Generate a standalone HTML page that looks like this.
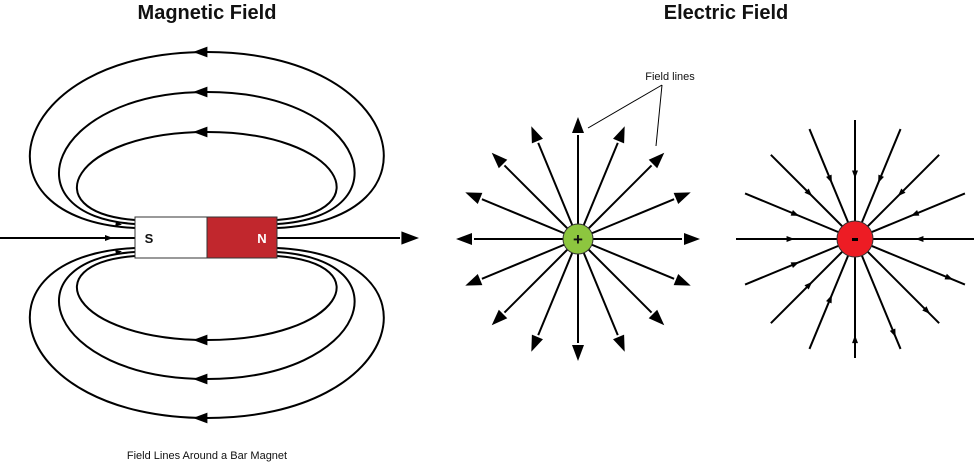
<!DOCTYPE html>
<html><head><meta charset="utf-8">
<style>
html,body{margin:0;padding:0;background:#fff;width:975px;height:463px;overflow:hidden}
svg{display:block}
text{font-family:"Liberation Sans",sans-serif;fill:#111}
</style></head>
<body>
<svg id="fig" width="975" height="463" viewBox="0 0 975 463">
  <text x="207" y="19" text-anchor="middle" font-size="20" font-weight="bold">Magnetic Field</text>
  <text x="726" y="19" text-anchor="middle" font-size="20" font-weight="bold">Electric Field</text>
  <text x="207" y="459" text-anchor="middle" font-size="11">Field Lines Around a Bar Magnet</text>
  <text x="670" y="80" text-anchor="middle" font-size="11">Field lines</text>
  <path d="M662,85 L588,128 M662,85 L656,146" stroke="#000" stroke-width="1" fill="none"/>
  <g id="mag"></g>
  <g id="plus"></g>
  <g id="minus"></g>
</svg>
<script>
// loop extents (top y of each loop, bottom y of each mirrored loop)
const topLoopY = [52, 92, 132];
const bottomLoopY = [418, 379, 340];
const loopHalfWidth = [200, 160, 135];
// ray directions (degrees) for point charges
const plusAngles = [0,22.5,45,67.5,90,112.5,135,157.5,180,202.5,225,247.5,270,292.5,315,337.5];
const minusAngles = [0,22.5,45,67.5,90,112.5,135,157.5,180,202.5,225,247.5,270,292.5,315,337.5];

const NS = 'http://www.w3.org/2000/svg';
function mk(tag, attrs, parent){
  const e = document.createElementNS(NS, tag);
  for (const k in attrs) e.setAttribute(k, attrs[k]);
  parent.appendChild(e);
  return e;
}
function tri(parent, x, y, ang, s){
  const a = ang*Math.PI/180, c=Math.cos(a), sn=Math.sin(a);
  const p = [[s,0],[-s*0.6,-s*0.6],[-s*0.6,s*0.6]].map(([u,v])=>[x+u*c-v*sn, y+u*sn+v*c]);
  return mk('path',{d:'M'+p.map(q=>q.join(',')).join(' L')+' Z',fill:'#000'},parent);
}
const mag = document.getElementById('mag');
const cx = 207, cy = 238, L = 135, R = 277;
topLoopY.forEach((ty,i)=>{
  const w = loopHalfWidth[i], sy = 228 - i*4;
  const p = mk('path',{d:`M${L},${sy} C${cx-w-40},${sy-8} ${cx-w},${ty} ${cx},${ty} C${cx+w},${ty} ${cx+w+40},${sy-8} ${R},${sy}`,fill:'none',stroke:'#000','stroke-width':2},mag);
  
  
  tri(mag, cx-5, ty, 180, 9);
});
bottomLoopY.forEach((by,i)=>{
  const w = loopHalfWidth[i], sy = 248 + i*4;
  const p = mk('path',{d:`M${L},${sy} C${cx-w-40},${sy+8} ${cx-w},${by} ${cx},${by} C${cx+w},${by} ${cx+w+40},${sy+8} ${R},${sy}`,fill:'none',stroke:'#000','stroke-width':2},mag);
  
  
  tri(mag, cx-5, by, 180, 9);
});
const axis = mk('path',{d:`M0,${cy} L${L},${cy} M${R},${cy} L400,${cy}`,stroke:'#000','stroke-width':2},mag);


tri(mag, 408, cy, 0, 11);
tri(mag, 108, cy, 0, 5);
tri(mag, 118, 224, 10, 4);
tri(mag, 118, 252, -10, 4);
const sBox = mk('rect',{x:L,y:217,width:72,height:41,fill:'#fff',stroke:'#333','stroke-width':1},mag);


const nBox = mk('rect',{x:207,y:217,width:70,height:41,fill:'#c1272d',stroke:'#333','stroke-width':1},mag);


const sT = mk('text',{x:149,y:243,'font-size':13,'font-weight':'bold','text-anchor':'middle'},mag); sT.textContent='S';


const nT = mk('text',{x:262,y:243,'font-size':13,'font-weight':'bold','text-anchor':'middle',style:'fill:#fff'},mag); nT.textContent='N';



const plus = document.getElementById('plus');
const px=578, py=239, pr=112;
plusAngles.forEach(a=>{
  const r=a*Math.PI/180, x=px+pr*Math.cos(r), y=py-pr*Math.sin(r);
  const ln = mk('line',{x1:px,y1:py,x2:px+(pr-8)*Math.cos(r),y2:py-(pr-8)*Math.sin(r),stroke:'#000','stroke-width':2},plus);
  
  
  tri(plus, x, y, -a, 10);
});
const pc = mk('circle',{cx:px,cy:py,r:15,fill:'#8dc63f',stroke:'#333','stroke-width':1},plus);


const pt = mk('text',{x:px,y:py+6,'font-size':17,'font-weight':'bold','text-anchor':'middle'},plus); pt.textContent='+';



const minus = document.getElementById('minus');
const mx=855, my=239, mr=119;
minusAngles.forEach(a=>{
  const r=a*Math.PI/180, x=mx+mr*Math.cos(r), y=my-mr*Math.sin(r);
  const ln = mk('line',{x1:mx,y1:my,x2:x,y2:y,stroke:'#000','stroke-width':2},minus);
  
  
  const f = (a>=270 && a<360) ? 0.85 : 0.55;
  const dir = (a>270 && a<360) ? -a : 180-a;
  tri(minus, mx+mr*f*Math.cos(r), my-mr*f*Math.sin(r), dir, 5);
});
const mc = mk('circle',{cx:mx,cy:my,r:18,fill:'#ed1c24',stroke:'#333','stroke-width':1},minus);


const mt = mk('rect',{x:mx-3,y:my-1,width:6,height:3,fill:'#000'},minus);


</script>
</body></html>
